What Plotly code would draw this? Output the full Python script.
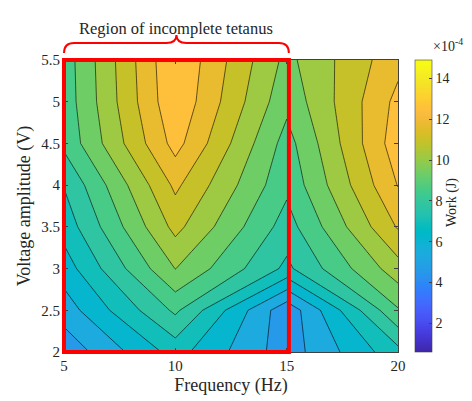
import numpy as np
import plotly.graph_objects as go

# ---------------- data (work in units of 1e-4 J) ----------------
freq = [5, 10, 15, 20]
voltage = [2.0, 2.5, 3.0, 3.5, 4.0, 4.5, 5.0, 5.5]
work_5hz = [4.81, 5.74, 6.55, 7.27, 7.79, 8.73, 8.87, 8.91]
work_10hz = [7.27, 8.70, 10.15, 11.17, 11.89, 12.81, 13.19, 13.28]
work_15hz = [4.94, 4.81, 7.57, 8.19, 8.74, 9.02, 9.57, 9.91]
work_20hz = [7.49, 9.26, 10.60, 11.80, 12.55, 12.99, 12.75, 12.27]

x_ticks = [5, 10, 15, 20]
y_ticks = [2, 2.5, 3, 3.5, 4, 4.5, 5, 5.5]
y_ticktext = ["2", "2.5", "3", "3.5", "4", "4.5", "5", "5.5"]
cbar_ticks = [2, 4, 6, 8, 10, 12, 14]
clim = (0.6, 14.9)
n_levels = 17              # contour levels evenly spaced inside the colour limits
region_x = (5, 15.1)       # incomplete-tetanus region (Hz)
region_y = (2, 5.5)

# ---------------- parula colormap (MATLAB R2017a+), anchor rows ----------------
PARULA = np.array([
    [0.2422, 0.1504, 0.6603], [0.2503, 0.1648, 0.7071], [0.2576, 0.1814, 0.7501],
    [0.2645, 0.1972, 0.7937], [0.2704, 0.2138, 0.8346], [0.2749, 0.2330, 0.8692],
    [0.2781, 0.2543, 0.8973], [0.2806, 0.2819, 0.9255], [0.2814, 0.3095, 0.9483],
    [0.2807, 0.3313, 0.9636], [0.2784, 0.3529, 0.9763], [0.2741, 0.3748, 0.9862],
    [0.2670, 0.3973, 0.9924], [0.2556, 0.4203, 0.9965], [0.2369, 0.4437, 0.9996],
    [0.2128, 0.4682, 0.9948], [0.1903, 0.4919, 0.9867], [0.1818, 0.5138, 0.9766],
    [0.1773, 0.5401, 0.9602], [0.1740, 0.5605, 0.9432], [0.1610, 0.5805, 0.9289],
    [0.1492, 0.5997, 0.9147], [0.1429, 0.6180, 0.9022], [0.1321, 0.6363, 0.8932],
    [0.1219, 0.6497, 0.8862], [0.1119, 0.6627, 0.8770], [0.1009, 0.6750, 0.8653],
    [0.0855, 0.6865, 0.8513], [0.0628, 0.6972, 0.8355], [0.0328, 0.7071, 0.8183],
    [0.0091, 0.7163, 0.8003], [0.0009, 0.7248, 0.7815], [0.0094, 0.7327, 0.7623],
    [0.0369, 0.7400, 0.7426], [0.0770, 0.7468, 0.7224], [0.1141, 0.7531, 0.7019],
    [0.1448, 0.7593, 0.6812], [0.1678, 0.7656, 0.6599], [0.1853, 0.7721, 0.6379],
    [0.2003, 0.7787, 0.6146], [0.2178, 0.7849, 0.5899], [0.2401, 0.7905, 0.5636],
    [0.2695, 0.7951, 0.5360], [0.3052, 0.7985, 0.5074], [0.3424, 0.8009, 0.4774],
    [0.3795, 0.8026, 0.4454], [0.4184, 0.8030, 0.4122], [0.4608, 0.8018, 0.3797],
    [0.5044, 0.7993, 0.3480], [0.5470, 0.7957, 0.3159], [0.5886, 0.7913, 0.2833],
    [0.6297, 0.7859, 0.2521], [0.6701, 0.7796, 0.2239], [0.7091, 0.7727, 0.1998],
    [0.7468, 0.7654, 0.1782], [0.7829, 0.7579, 0.1608], [0.8172, 0.7505, 0.1535],
    [0.8495, 0.7435, 0.1564], [0.8804, 0.7372, 0.1650], [0.9093, 0.7321, 0.1815],
    [0.9357, 0.7290, 0.2061], [0.9606, 0.7285, 0.2312], [0.9842, 0.7330, 0.2446],
    [0.9966, 0.7458, 0.2351], [0.9971, 0.7626, 0.2224], [0.9957, 0.7856, 0.2053],
    [0.9906, 0.8095, 0.1906], [0.9835, 0.8342, 0.1787], [0.9720, 0.8529, 0.1695],
    [0.9651, 0.8716, 0.1608], [0.9608, 0.8902, 0.1532], [0.9595, 0.9084, 0.1450],
    [0.9608, 0.9262, 0.1344], [0.9642, 0.9437, 0.1216], [0.9692, 0.9609, 0.1061],
    [0.9749, 0.9782, 0.0872], [0.9769, 0.9839, 0.0805],
])


def parula(f):
    f = min(max(f, 0.0), 1.0)
    pos = f * (len(PARULA) - 1)
    i = int(np.floor(pos))
    j = min(i + 1, len(PARULA) - 1)
    w = pos - i
    c = PARULA[i] * (1 - w) + PARULA[j] * w
    return "rgb(%d,%d,%d)" % tuple(int(round(v * 255)) for v in c)


# continuous colour scale for the colour bar
cbar_scale = [[k / 64, parula(k / 64)] for k in range(65)]

# contour levels
level_step = (clim[1] - clim[0]) / (n_levels + 1)
level_start = clim[0] + level_step
level_end = level_start + (n_levels - 1) * level_step

# contour fill scale: each band takes the colour of its lower level (MATLAB style)
contour_scale = []
for m in range(n_levels + 1):
    lv = level_start + (m - 1) * level_step
    contour_scale.append([m / n_levels, parula((lv - clim[0]) / (clim[1] - clim[0]))])

z = np.array([work_5hz, work_10hz, work_15hz, work_20hz]).T

SERIF = "Liberation Serif, Times New Roman, serif"
TXT = "#262626"

fig = go.Figure()
fig.add_trace(go.Contour(
    x=freq, y=voltage, z=z,
    autocontour=False,
    contours=dict(start=level_start, end=level_end, size=level_step, coloring="fill"),
    colorscale=contour_scale,
    line=dict(color="black", width=0.6, smoothing=0),
    showscale=False, hoverinfo="skip",
))

# colour bar (continuous)
fig.add_trace(go.Scatter(
    x=[freq[0]], y=[voltage[0]], mode="markers",
    marker=dict(color=[clim[0]], size=1, opacity=0, colorscale=cbar_scale,
                cmin=clim[0], cmax=clim[1], showscale=True,
                colorbar=dict(x=1.051, xanchor="left", y=0.5, yanchor="middle",
                              len=1, lenmode="fraction", thickness=17,
                              xpad=0, ypad=0, outlinewidth=0.6, outlinecolor="#404040",
                              tickvals=cbar_ticks, ticks="inside", ticklen=3,
                              tickcolor="#404040",
                              tickfont=dict(family=SERIF, size=14, color=TXT))),
    showlegend=False, hoverinfo="skip",
))

# page body has an 8px margin: size the figure so the plot lands where the reference has it
OFF = 8
W, H = 472 - OFF, 401 - OFF
ml, mt = 64 - OFF, 60 - OFF
pw, ph = 334, 292
mr, mb = W - ml - pw, H - mt - ph


def px_x(p):
    return (p - OFF - ml) / pw


def px_y(p):
    return (mt + ph - (p - OFF)) / ph


def data_x(v):
    return (v - freq[0]) / (freq[-1] - freq[0])


def data_y(v):
    return (v - voltage[0]) / (voltage[-1] - voltage[0])


# red rectangle (region of incomplete tetanus)
fig.add_shape(type="rect", xref="paper", yref="paper",
              x0=data_x(region_x[0]), x1=data_x(region_x[1]),
              y0=data_y(region_y[0]), y1=data_y(region_y[1]),
              line=dict(color="#ff0000", width=4), layer="above")

# curly brace above the region
xl, xr = data_x(region_x[0]), data_x(region_x[1])
xm = (xl + xr) / 2
yb, ya, yt = px_y(53), px_y(43), px_y(35)
dx = 10 / pw
brace = (f"M {xl},{yb} Q {xl},{ya} {xl+dx},{ya} L {xm-dx},{ya} "
         f"Q {xm},{ya} {xm},{yt} Q {xm},{ya} {xm+dx},{ya} "
         f"L {xr-dx},{ya} Q {xr},{ya} {xr},{yb}")
fig.add_shape(type="path", xref="paper", yref="paper", path=brace,
              line=dict(color="#ff0000", width=2))

fig.add_annotation(x=xm, y=px_y(17), xref="paper", yref="paper",
                   text="Region of incomplete tetanus", showarrow=False,
                   font=dict(family=SERIF, size=16.5, color=TXT))
fig.add_annotation(x=px_x(431), y=px_y(45), xref="paper", yref="paper",
                   xanchor="left", yanchor="middle",
                   text="×10<sup>-4</sup>", showarrow=False,
                   font=dict(family=SERIF, size=14, color=TXT))
fig.add_annotation(x=px_x(462), y=px_y(203), xref="paper", yref="paper",
                   text="Work (J)", textangle=-90, showarrow=False,
                   font=dict(family=SERIF, size=14, color=TXT))

axis_common = dict(showgrid=False, zeroline=False, showline=True, linecolor="#404040",
                   linewidth=0.8, ticks="inside", ticklen=4, tickcolor="#404040",
                   mirror="ticks", tickfont=dict(family=SERIF, size=15, color=TXT))
fig.update_xaxes(range=[freq[0], freq[-1]], tickvals=x_ticks,
                 title=dict(text="Frequency (Hz)", font=dict(family=SERIF, size=18, color=TXT),
                            standoff=5),
                 **axis_common)
fig.update_yaxes(range=[voltage[0], voltage[-1]], tickvals=y_ticks, ticktext=y_ticktext,
                 title=dict(text="Voltage amplitude (V)", font=dict(family=SERIF, size=18, color=TXT),
                            standoff=6),
                 **axis_common)

fig.update_layout(width=W, height=H, margin=dict(l=ml, r=mr, t=mt, b=mb, autoexpand=False),
                  paper_bgcolor="white", plot_bgcolor="white", showlegend=False)

fig.write_html("out.html")
